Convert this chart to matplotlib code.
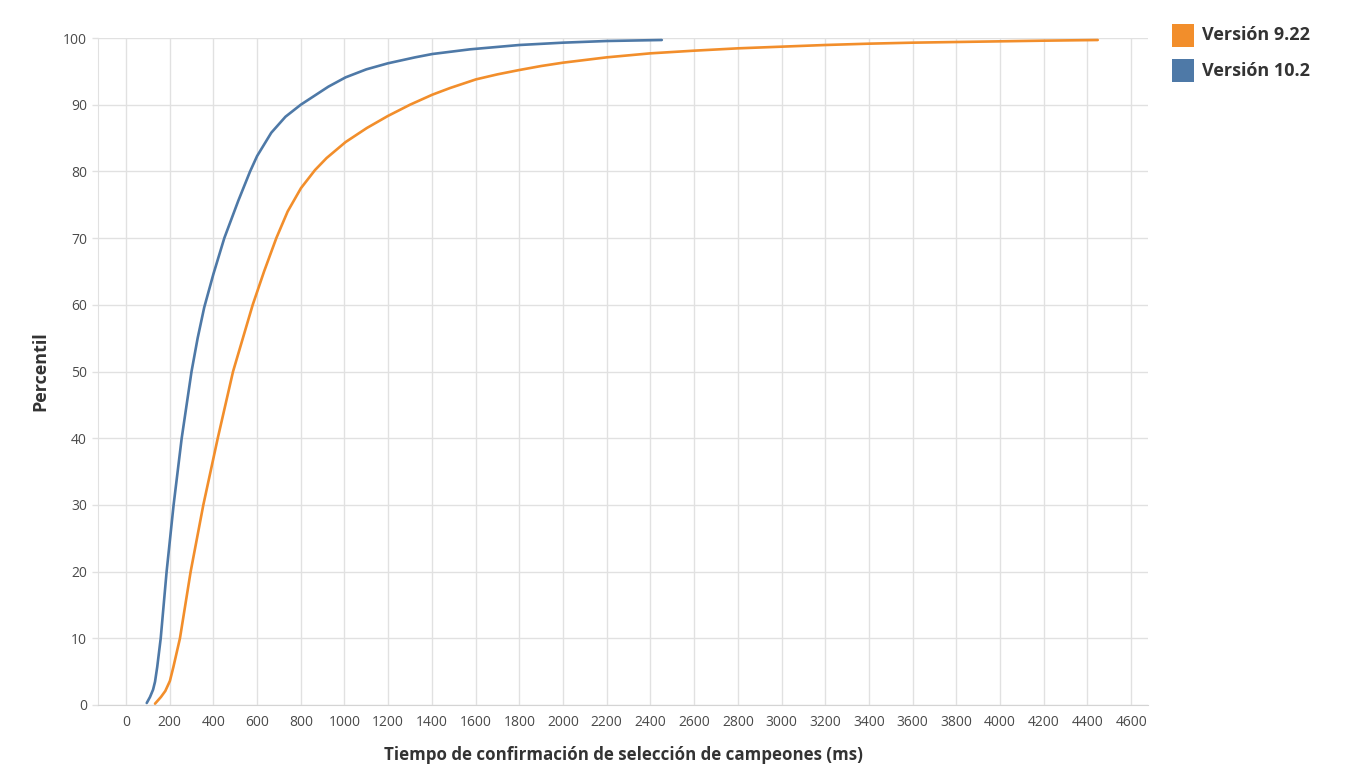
import matplotlib
matplotlib.use('Agg')
import matplotlib.pyplot as plt
from matplotlib.patches import Rectangle

plt.rcParams['font.family'] = ['Open Sans', 'DejaVu Sans']

# percentile curves (ms, percentile)
ms_v10 = [95, 110, 124, 133, 143, 159, 186, 218, 255, 300, 328, 358, 400, 450, 514,
          568, 600, 665, 730, 800, 926, 1005, 1100, 1198, 1323, 1402, 1574, 1800,
          2000, 2200, 2452]
pct_v10 = [0.3, 1.2, 2.3, 3.5, 5.7, 10, 20, 30, 40, 50, 55, 59.6, 64.6, 70, 75.6,
           80, 82.3, 85.8, 88.2, 90, 92.7, 94.1, 95.3, 96.2, 97.1, 97.6, 98.3,
           98.95, 99.3, 99.55, 99.7]

ms_v922 = [133, 160, 180, 201, 217, 247, 296, 354, 420, 490, 535, 580, 632, 688,
           740, 801, 865, 918, 1005, 1102, 1198, 1300, 1402, 1483, 1602, 1700, 1800,
           1900, 2000, 2200, 2400, 2600, 2800, 3000, 3200, 3400, 3600, 3800, 4000,
           4200, 4447]
pct_v922 = [0.2, 1.2, 2.1, 3.6, 5.7, 10, 20, 30, 40, 50, 55, 60, 65, 70,
            74, 77.5, 80.2, 82, 84.4, 86.5, 88.3, 90, 91.5, 92.5, 93.8, 94.55, 95.2,
            95.8, 96.3, 97.1, 97.7, 98.1, 98.45, 98.7, 98.95, 99.15, 99.3, 99.4, 99.5,
            99.6, 99.7]

labels = ['Versión 9.22', 'Versión 10.2']
colors = ['#f28e2b', '#4e79a7']

grid_col = '#e1e1e1'
text_col = '#333333'
W, H = 1362, 780

fig = plt.figure(figsize=(W / 100, H / 100), dpi=100)
ax = fig.add_axes([98/W, 75/H, 1050/W, 667/H])

ax.plot(ms_v922, pct_v922, color=colors[0], lw=1.9, solid_capstyle='round', zorder=3)
ax.plot(ms_v10, pct_v10, color=colors[1], lw=1.9, solid_capstyle='round', zorder=3)

ax.set_xlim(-128, 4677)
ax.set_ylim(0, 100)
ax.set_xticks(range(0, 4601, 200))
ax.set_yticks(range(0, 101, 10))

ax.grid(True, color=grid_col, lw=1)
ax.set_axisbelow(True)
for s in ['top', 'right']:
    ax.spines[s].set_visible(False)
ax.spines['left'].set_color(grid_col)
ax.spines['bottom'].set_color('#d4d4d4')

ax.tick_params(axis='x', length=0, pad=7, labelsize=10, labelcolor='#4a4a4a')
ax.tick_params(axis='y', length=4, width=1, color=grid_col, pad=4,
               labelsize=10, labelcolor='#4a4a4a')

ax.set_xlabel('Tiempo de confirmación de selección de campeones (ms)',
              fontsize=12.2, fontweight='bold', color=text_col, labelpad=12)
ax.set_ylabel('Percentil', fontsize=13, fontweight='bold', color=text_col, labelpad=10)

# legend: coloured squares with bold labels, top right
for i, (lab, c) in enumerate(zip(labels, colors)):
    top = 24 + 35 * i
    fig.add_artist(Rectangle((1172/W, 1 - (top + 23)/H), 22/W, 23/H,
                             transform=fig.transFigure, facecolor=c, edgecolor='none'))
    fig.text(1202/W, 1 - (top + 11.5)/H, lab, fontsize=13, fontweight='bold',
             color=text_col, va='center', ha='left')

fig.savefig('out.png', dpi=100)
